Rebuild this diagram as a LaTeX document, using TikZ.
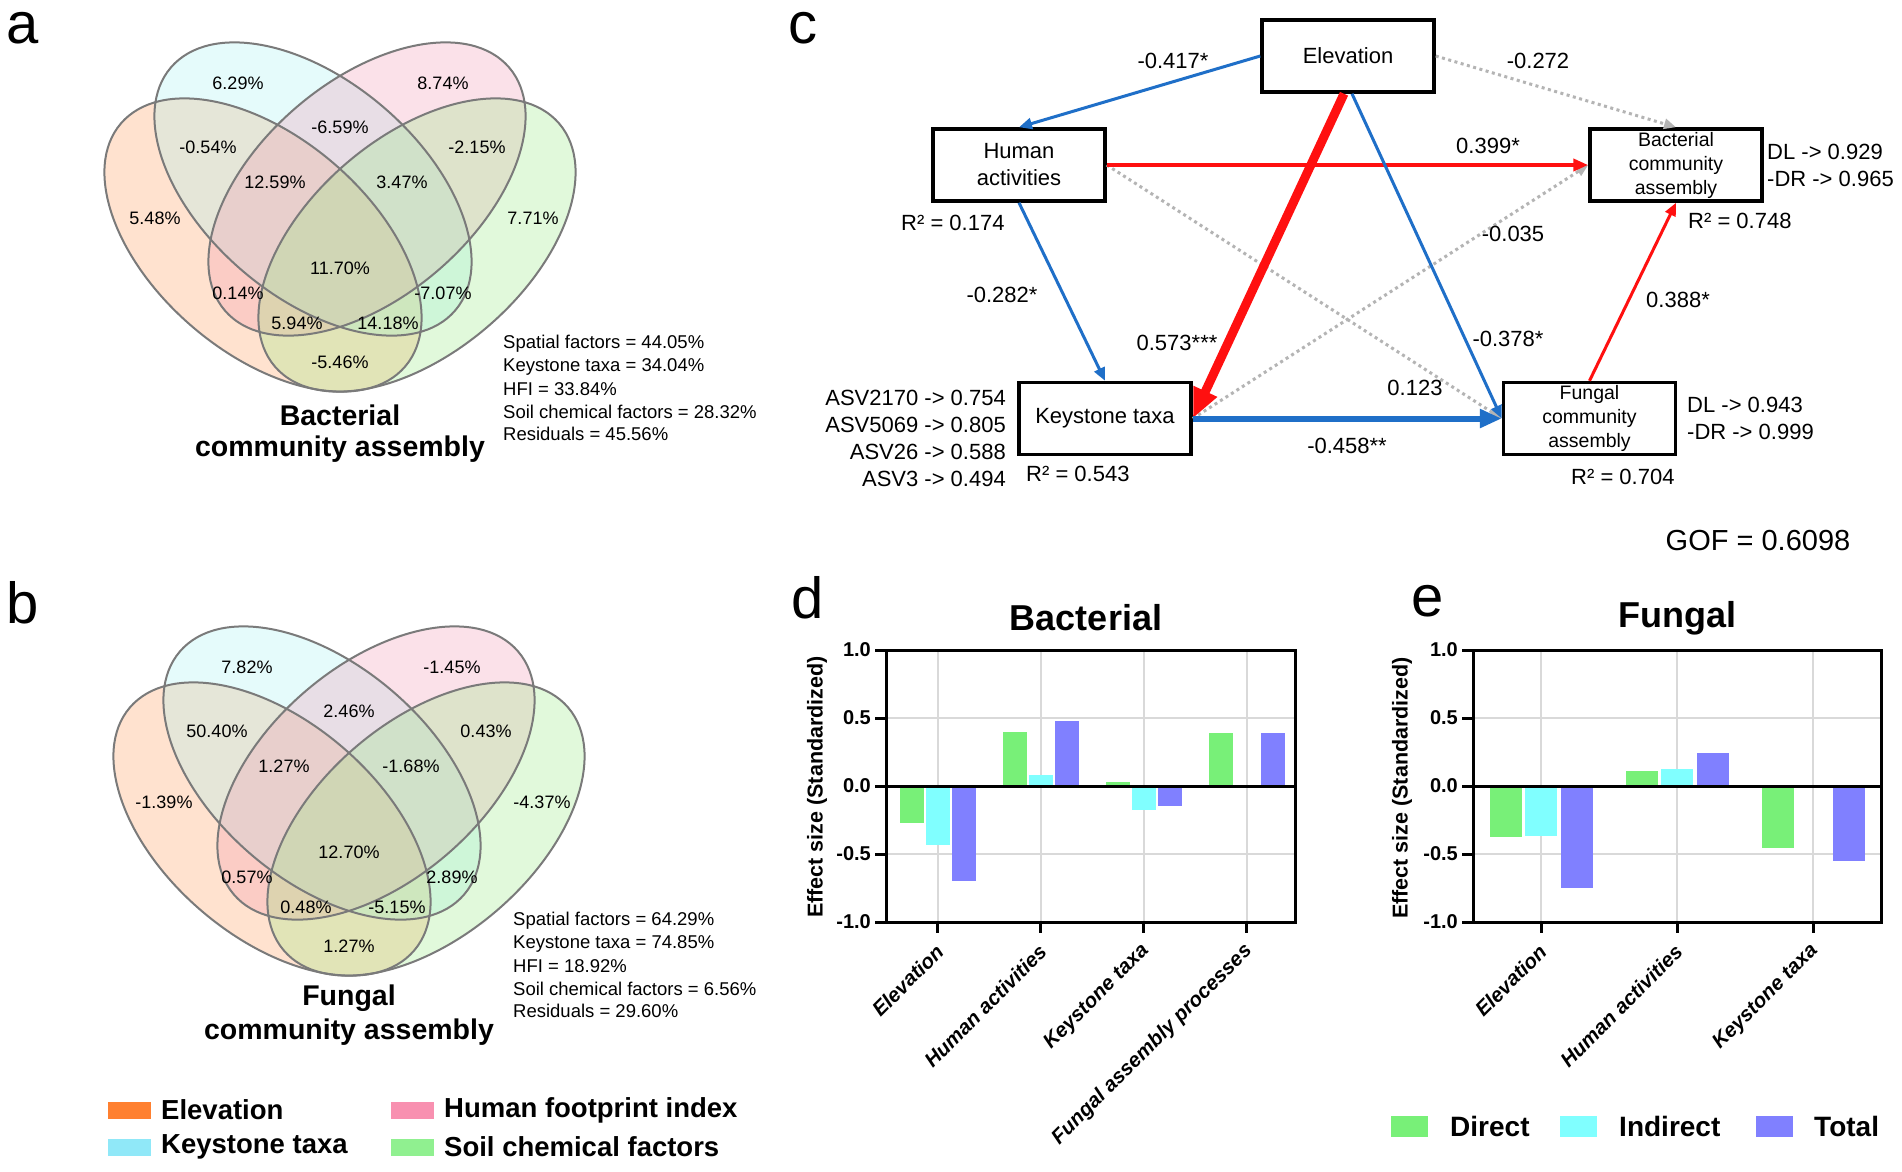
\documentclass[tikz,border=0pt]{standalone}
\usepackage{fontspec}
\setmainfont{Liberation Sans}
\usetikzlibrary{arrows.meta,calc}
\definecolor{vorange}{HTML}{FF8C40}
\definecolor{vcyan}{HTML}{9BF3F3}
\definecolor{vpink}{HTML}{F38BAB}
\definecolor{vgreen}{HTML}{8BEB73}
\definecolor{vline}{HTML}{7A7A7A}
\definecolor{pblue}{HTML}{1F6FC8}
\definecolor{pred}{HTML}{FF1010}
\definecolor{pgrey}{HTML}{B4B4B4}
\definecolor{bgreen}{HTML}{78F078}
\definecolor{bcyan}{HTML}{80FFFF}
\definecolor{bpurple}{HTML}{8080FF}
\definecolor{gridc}{HTML}{D9D9D9}
\definecolor{lorange}{HTML}{FF8030}
\definecolor{lcyan}{HTML}{90E8F8}
\definecolor{lpink}{HTML}{F890B0}
\definecolor{lgreen}{HTML}{90F090}
\tikzset{
  plabel/.style={inner sep=0, font=\fontsize{58}{60}\selectfont},
  venntxt/.style={inner sep=0, font=\fontsize{18}{22}\selectfont},
  venntitle/.style={inner sep=0, font=\bfseries\fontsize{28.5}{34}\selectfont},
  stattxt/.style={inner sep=0, anchor=west, font=\fontsize{18.5}{22}\selectfont},
  legtxt/.style={inner sep=0, anchor=west, font=\bfseries\fontsize{27.5}{32}\selectfont},
  swatch/.style={inner sep=0, minimum width=43pt, minimum height=17pt},
  semnode/.style={draw, line width=3.5pt, minimum width=172pt, minimum height=72pt, inner sep=0, align=center, font=\fontsize{22}{27}\selectfont},
  semsmall/.style={font=\fontsize{19.5}{24}\selectfont},
  lbl/.style={inner sep=0, font=\fontsize{22}{26}\selectfont},
  lblw/.style={inner sep=0, anchor=west, font=\fontsize{22}{26}\selectfont},
  lble/.style={inner sep=0, anchor=east, font=\fontsize{22}{26}\selectfont},
  bluethin/.style={pblue, line width=3pt, -{Triangle[length=13pt,width=11pt]}},
  bluethick/.style={pblue, line width=6pt, -{Triangle[length=22pt,width=18pt]}},
  redthin/.style={pred, line width=3pt, -{Triangle[length=13pt,width=11pt]}},
  redmid/.style={pred, line width=4pt, -{Triangle[length=15pt,width=12pt]}},
  redthick/.style={pred, line width=9pt, -{Triangle[length=30pt,width=24pt]}},
  greydot/.style={pgrey, line width=3pt, dash pattern=on 3pt off 3.5pt, -{Triangle[length=12pt,width=10pt]}},
  ticklab/.style={inner sep=0, anchor=east, font=\bfseries\fontsize{20}{24}\selectfont},
  xlab/.style={inner sep=0, anchor=east, rotate=45, font=\bfseries\itshape\fontsize{20.5}{24}\selectfont},
  ylab/.style={inner sep=0, rotate=90, font=\bfseries\fontsize{21.5}{26}\selectfont},
  charttitle/.style={inner sep=0, font=\bfseries\fontsize{36}{40}\selectfont},
  gridline/.style={gridc, line width=2pt},
}
\newcommand{\vennshapes}{%
  \fill[vorange, fill opacity=0.25, rotate around={-40.5:(263,245)}] (263,245) ellipse [x radius=187pt, y radius=108pt];
  \fill[vcyan, fill opacity=0.25, rotate around={-40.5:(313,189)}] (313,189) ellipse [x radius=187pt, y radius=108pt];
  \fill[vpink, fill opacity=0.25, rotate around={40.5:(367,189)}] (367,189) ellipse [x radius=187pt, y radius=108pt];
  \fill[vgreen, fill opacity=0.25, rotate around={40.5:(417,245)}] (417,245) ellipse [x radius=187pt, y radius=108pt];
  \draw[vline, line width=2pt, rotate around={-40.5:(263,245)}] (263,245) ellipse [x radius=187pt, y radius=108pt];
  \draw[vline, line width=2pt, rotate around={-40.5:(313,189)}] (313,189) ellipse [x radius=187pt, y radius=108pt];
  \draw[vline, line width=2pt, rotate around={40.5:(367,189)}] (367,189) ellipse [x radius=187pt, y radius=108pt];
  \draw[vline, line width=2pt, rotate around={40.5:(417,245)}] (417,245) ellipse [x radius=187pt, y radius=108pt];
}
\newcommand{\ebar}[4]{\fill[#3] ({#1-#4/2},786) rectangle ({#1+#4/2},{786-#2*136});}
\begin{document}
\begin{tikzpicture}[x=1pt,y=-1pt]
\path[use as bounding box, fill=white] (0,0) rectangle (1902,1171);

% ---------- panel labels
\node[plabel] (pa) at (23,28) {a};
\node[plabel] (pb) at (23,603) {b};
\node[plabel] (pc) at (803,28) {c};
\node[plabel] (pd) at (808,598) {d};
\node[plabel] (pe) at (1428,601) {e};

% ---------- Venn a
\begin{scope}
\vennshapes
\node[venntxt] (a1) at (238,83) {6.29\%};
\node[venntxt] (a2) at (443,83) {8.74\%};
\node[venntxt] (a3) at (340,127) {-6.59\%};
\node[venntxt] (a4) at (208,147) {-0.54\%};
\node[venntxt] (a5) at (477,147) {-2.15\%};
\node[venntxt] (a6) at (275,182) {12.59\%};
\node[venntxt] (a7) at (402,182) {3.47\%};
\node[venntxt] (a8) at (155,218) {5.48\%};
\node[venntxt] (a9) at (533,218) {7.71\%};
\node[venntxt] (a10) at (340,268) {11.70\%};
\node[venntxt] (a11) at (238,293) {0.14\%};
\node[venntxt] (a12) at (443,293) {-7.07\%};
\node[venntxt] (a13) at (297,323) {5.94\%};
\node[venntxt] (a14) at (388,323) {14.18\%};
\node[venntxt] (a15) at (340,362) {-5.46\%};
\node[venntitle] (at1) at (340,415) {Bacterial};
\node[venntitle] (at2) at (340,449) {community assembly};
\node[stattxt] (as1) at (503,344) {Spatial factors = 44.05\%};
\node[stattxt] (as2) at (503,366.5) {Keystone taxa = 34.04\%};
\node[stattxt] (as3) at (503,389) {HFI = 33.84\%};
\node[stattxt] (as4) at (503,411.5) {Soil chemical factors = 28.32\%};
\node[stattxt] (as5) at (503,434) {Residuals = 45.56\%};
\end{scope}

% ---------- Venn b
\begin{scope}[shift={(9,584)}]
\vennshapes
\node[venntxt] (b1) at (238,83) {7.82\%};
\node[venntxt] (b2) at (443,83) {-1.45\%};
\node[venntxt] (b3) at (340,127) {2.46\%};
\node[venntxt] (b4) at (208,147) {50.40\%};
\node[venntxt] (b5) at (477,147) {0.43\%};
\node[venntxt] (b6) at (275,182) {1.27\%};
\node[venntxt] (b7) at (402,182) {-1.68\%};
\node[venntxt] (b8) at (155,218) {-1.39\%};
\node[venntxt] (b9) at (533,218) {-4.37\%};
\node[venntxt] (b10) at (340,268) {12.70\%};
\node[venntxt] (b11) at (238,293) {0.57\%};
\node[venntxt] (b12) at (443,293) {2.89\%};
\node[venntxt] (b13) at (297,323) {0.48\%};
\node[venntxt] (b14) at (388,323) {-5.15\%};
\node[venntxt] (b15) at (340,362) {1.27\%};
\node[venntitle] (bt1) at (340,414) {Fungal};
\node[venntitle] (bt2) at (340,448) {community assembly};
\node[stattxt] (bs1) at (504,337) {Spatial factors = 64.29\%};
\node[stattxt] (bs2) at (504,359.5) {Keystone taxa = 74.85\%};
\node[stattxt] (bs3) at (504,382) {HFI = 18.92\%};
\node[stattxt] (bs4) at (504,404.5) {Soil chemical factors = 6.56\%};
\node[stattxt] (bs5) at (504,427) {Residuals = 29.60\%};
\end{scope}

% ---------- legend (a,b)
\node[swatch, fill=lorange] (lg1) at (129.5,1110) {};
\node[swatch, fill=lcyan] (lg2) at (129.5,1147) {};
\node[swatch, fill=lpink] (lg3) at (412,1110) {};
\node[swatch, fill=lgreen] (lg4) at (412,1147) {};
\node[legtxt] (lt1) at (161,1110) {Elevation};
\node[legtxt] (lt2) at (161,1147) {Keystone taxa};
\node[legtxt] (lt3) at (444,1110) {Human footprint index};
\node[legtxt] (lt4) at (444,1147) {Soil chemical factors};

% ---------- panel c (SEM)
\node[semnode] (elev) at (1348,56) {Elevation};
\node[semnode] (human) at (1019,165) {Human\\activities};
\node[semnode] (key) at (1105,418.5) {Keystone taxa};
\node[semnode, semsmall] (bact) at (1676,165) {Bacterial\\community\\assembly};
\node[semnode, semsmall] (fung) at (1589.5,418.5) {Fungal\\community\\assembly};

\draw[greydot] (human.east) -- (fung.west);
\draw[greydot] (key.east) -- (bact.west);
\draw[greydot] (elev.east) -- (bact.north);
\draw[bluethin] (elev.west) -- (human.north);
\draw[bluethin] (human.south) -- (key.north);
\draw[redmid] (human.east) -- (bact.west);
\draw[bluethin] ($(elev.south)+(4,0)$) -- (fung.west);
\draw[redthick] ($(elev.south)+(-4,0)$) -- (key.east);
\draw[bluethick] (key.east) -- (fung.west);
\draw[redthin] (fung.north) -- (bact.south);

\node[lbl] (c1) at (1173,61) {-0.417*};
\node[lbl] (c2) at (1538,61) {-0.272};
\node[lbl] (c3) at (1488,146) {0.399*};
\node[lbl] (c4) at (1002,295) {-0.282*};
\node[lbl] (c5) at (1513,234) {-0.035};
\node[lbl] (c6) at (1678,300) {0.388*};
\node[lbl] (c7) at (1177,343) {0.573***};
\node[lbl] (c8) at (1508,339) {-0.378*};
\node[lbl] (c9) at (1415,388) {0.123};
\node[lbl] (c10) at (1347,446) {-0.458**};
\node[lblw] (r1) at (901,223) {R² = 0.174};
\node[lblw] (r2) at (1026,474) {R² = 0.543};
\node[lblw] (r3) at (1688,221) {R² = 0.748};
\node[lblw] (r4) at (1571,477) {R² = 0.704};
\node[lble] (k1) at (1006,398) {ASV2170 -> 0.754};
\node[lble] (k2) at (1006,425) {ASV5069 -> 0.805};
\node[lble] (k3) at (1006,452) {ASV26 -> 0.588};
\node[lble] (k4) at (1006,479) {ASV3 -> 0.494};
\node[lblw] (d1) at (1767,152) {DL -> 0.929};
\node[lblw] (d2) at (1767,179) {-DR -> 0.965};
\node[lblw] (d3) at (1687,405) {DL -> 0.943};
\node[lblw] (d4) at (1687,432) {-DR -> 0.999};
\node[inner sep=0, font=\fontsize{29}{34}\selectfont] (gof) at (1758,541) {GOF = 0.6098};

% ---------- panel d
\node[charttitle] (dtitle) at (1086,618) {Bacterial};
\draw[gridline] (886,718) -- (1295,718);
\draw[gridline] (886,854) -- (1295,854);
\foreach \cx in {937.5,1040.5,1143.5,1246.5} {\draw[gridline] (\cx,650) -- (\cx,922);}
\ebar{911.5}{-0.273}{bgreen}{24}
\ebar{937.5}{-0.432}{bcyan}{24}
\ebar{963.5}{-0.70}{bpurple}{24}
\ebar{1014.5}{0.399}{bgreen}{24}
\ebar{1040.5}{0.08}{bcyan}{24}
\ebar{1066.5}{0.48}{bpurple}{24}
\ebar{1117.5}{0.03}{bgreen}{24}
\ebar{1143.5}{-0.18}{bcyan}{24}
\ebar{1169.5}{-0.146}{bpurple}{24}
\ebar{1220.5}{0.388}{bgreen}{24}
\ebar{1272.5}{0.388}{bpurple}{24}
\draw[line width=3pt] (886,786) -- (1295,786);
\draw[line width=3pt] (886,650) rectangle (1295,922);
\foreach \ty in {650,718,786,854,922} {\draw[line width=3pt] (875,\ty) -- (886,\ty);}
\foreach \cx in {937.5,1040.5,1143.5,1246.5} {\draw[line width=3pt] (\cx,922) -- (\cx,933);}
\node[ticklab] (dy1) at (871,650) {1.0};
\node[ticklab] (dy2) at (871,718) {0.5};
\node[ticklab] (dy3) at (871,786) {0.0};
\node[ticklab] (dy4) at (871,854) {-0.5};
\node[ticklab] (dy5) at (871,922) {-1.0};
\node[ylab] (dylab) at (817,787) {Effect size (Standardized)};
\node[xlab] (dx1) at (940,948) {Elevation};
\node[xlab] (dx2) at (1043,948) {Human activities};
\node[xlab] (dx3) at (1146,948) {Keystone taxa};
\node[xlab] (dx4) at (1249,948) {Fungal assembly processes};

% ---------- panel e
\node[charttitle] (etitle) at (1677,618) {Fungal};
\draw[gridline] (1473,718) -- (1881,718);
\draw[gridline] (1473,854) -- (1881,854);
\foreach \cx in {1541,1677,1813} {\draw[gridline] (\cx,650) -- (\cx,922);}
\ebar{1505.5}{-0.378}{bgreen}{32}
\ebar{1541}{-0.37}{bcyan}{32}
\ebar{1576.5}{-0.748}{bpurple}{32}
\ebar{1641.5}{0.112}{bgreen}{32}
\ebar{1677}{0.123}{bcyan}{32}
\ebar{1712.5}{0.246}{bpurple}{32}
\ebar{1777.5}{-0.458}{bgreen}{32}
\ebar{1848.5}{-0.55}{bpurple}{32}
\draw[line width=3pt] (1473,786) -- (1881,786);
\draw[line width=3pt] (1473,650) rectangle (1881,922);
\foreach \ty in {650,718,786,854,922} {\draw[line width=3pt] (1462,\ty) -- (1473,\ty);}
\foreach \cx in {1541,1677,1813} {\draw[line width=3pt] (\cx,922) -- (\cx,933);}
\node[ticklab] (ey1) at (1458,650) {1.0};
\node[ticklab] (ey2) at (1458,718) {0.5};
\node[ticklab] (ey3) at (1458,786) {0.0};
\node[ticklab] (ey4) at (1458,854) {-0.5};
\node[ticklab] (ey5) at (1458,922) {-1.0};
\node[ylab] (eylab) at (1402,788) {Effect size (Standardized)};
\node[xlab] (ex1) at (1543,948) {Elevation};
\node[xlab] (ex2) at (1679,948) {Human activities};
\node[xlab] (ex3) at (1815,948) {Keystone taxa};

% ---------- legend (d,e)
\node[inner sep=0, minimum width=37pt, minimum height=21pt, fill=bgreen] (el1) at (1409.5,1126) {};
\node[inner sep=0, minimum width=37pt, minimum height=21pt, fill=bcyan] (el2) at (1578.5,1126) {};
\node[inner sep=0, minimum width=37pt, minimum height=21pt, fill=bpurple] (el3) at (1774,1126) {};
\node[legtxt, font=\bfseries\fontsize{28}{32}\selectfont] (elt1) at (1450,1126) {Direct};
\node[legtxt, font=\bfseries\fontsize{28}{32}\selectfont] (elt2) at (1619,1126) {Indirect};
\node[legtxt, font=\bfseries\fontsize{28}{32}\selectfont] (elt3) at (1814,1126) {Total};
\end{tikzpicture}
\end{document}
